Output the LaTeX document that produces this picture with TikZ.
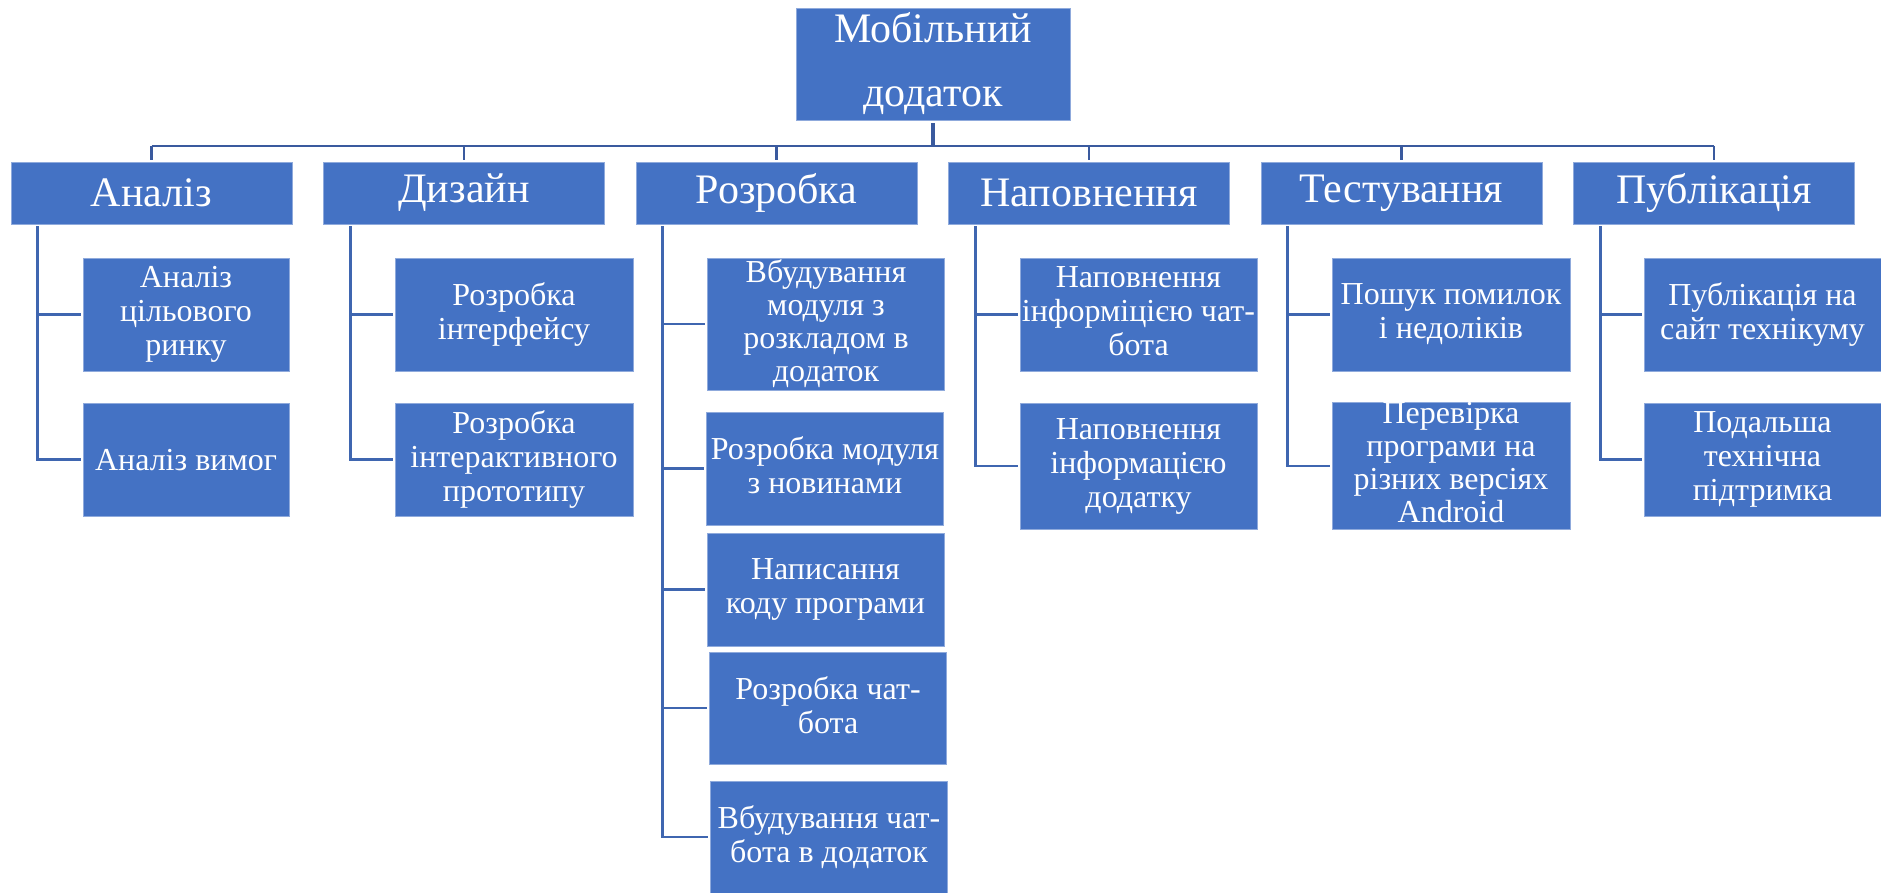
\documentclass[tikz,border=0pt]{standalone}
\usepackage{fontspec}
\setmainfont{Liberation Serif}
\usetikzlibrary{calc}
\definecolor{boxblue}{HTML}{4472C4}
\definecolor{boxedge}{HTML}{8FAADC}
\definecolor{busblue}{HTML}{3A5A9E}
\definecolor{spineblue}{HTML}{3F66B0}
% line box of a word-processor line: full ascent and descent of the font
\newcommand{\linebox}{\rule[-6.9pt]{0pt}{35.4pt}}
\begin{document}
\begin{tikzpicture}[x=1pt,y=-1pt,
  box/.style={rectangle, fill=boxblue, draw=boxedge, line width=0.8pt,
    text=white, inner sep=0pt, align=center},
  rootbox/.style={box, minimum width=274pt, minimum height=112pt,
    font=\fontsize{42}{64}\selectfont},
  topbox/.style={box, minimum width=281pt, minimum height=62pt,
    font=\fontsize{42}{48}\selectfont},
  subbox/.style={box, minimum width=237pt, minimum height=113pt,
    font=\fontsize{32}{34}\selectfont,
    execute at begin node=\linebox, execute at end node=\linebox},
  tightbox/.style={subbox, font=\fontsize{32}{33}\selectfont,
    execute at begin node={}, execute at end node={}},
  buslink/.style={draw=busblue, line width=2.8pt},
  link/.style={draw=spineblue, line width=2.8pt}]
\useasboundingbox (0,0) rectangle (1881,893);

% root
\node[rootbox] (root) at (933,64) {Мобільний\\додаток};

% first level
\node[topbox] (an) at (151.5,193) {Аналіз};
\node[topbox] (dz) at (464,193) {Дизайн};
\node[topbox] (rz) at (776.5,193) {Розробка};
\node[topbox] (np) at (1089,193) {Наповнення};
\node[topbox] (ts) at (1401.5,193) {Тестування};
\node[topbox] (pb) at (1714,193) {Публікація};

% second level
\node[subbox, minimum width=206pt] (an1) at (186,314.5) {Аналіз\\цільового\\ринку};
\node[subbox, minimum width=206pt] (an2) at (186,459.5) {Аналіз вимог};

\node[subbox, minimum width=238pt] (dz1) at (514,314.5) {Розробка\\інтерфейсу};
\node[subbox, minimum width=238pt] (dz2) at (514,459.5) {Розробка\\інтерактивного\\прототипу};

\node[tightbox, minimum height=132pt] (rz1) at (826,324) {Вбудування\\модуля з\\розкладом в\\додаток};
\node[subbox] (rz2) at (825,468.5) {Розробка модуля\\з новинами};
\node[subbox] (rz3) at (825.5,589.5) {Написання\\коду програми};
\node[subbox, minimum height=112pt] (rz4) at (828,708) {Розробка чат-\\бота};
\node[subbox, minimum height=112pt] (rz5) at (829,837) {Вбудування чат-\\бота в додаток};

\node[subbox] (np1) at (1138.5,314.5) {Наповнення\\інформіцією чат-\\бота};
\node[subbox, minimum height=126pt] (np2) at (1138.5,466) {Наповнення\\інформацією\\додатку};

\node[subbox, minimum width=238pt] (ts1) at (1451,314.5) {Пошук помилок\\і недоліків};
\node[tightbox, minimum width=238pt, minimum height=126pt] (ts2) at (1451,466) {Перевірка\\програми на\\різних версіях\\Android};

\node[subbox] (pb1) at (1762.5,314.5) {Публікація на\\сайт технікуму};
\node[subbox] (pb2) at (1762.5,459.5) {Подальша\\технічна\\підтримка};

% bus between root and first level
\coordinate (bus) at (0,146);
\draw[buslink] (an.north |- bus) -- (pb.north |- bus);
\draw[buslink, line width=3.2pt, shorten <=3pt] (root.south) -- (root.south |- bus);
\foreach \n in {an,dz,rz,np,ts,pb}
  \draw[buslink, shorten >=2pt] (\n.north |- bus) -- (\n.north);

% spines to second level
\foreach \p/\c in {an/an1,an/an2,dz/dz1,dz/dz2,
                   rz/rz1,rz/rz2,rz/rz3,rz/rz4,rz/rz5,
                   np/np1,np/np2,ts/ts1,ts/ts2,pb/pb1,pb/pb2}
  \draw[link, shorten >=2pt] ($(\p.south west)+(27,2)$) |- (\c.west);
\end{tikzpicture}
\end{document}
